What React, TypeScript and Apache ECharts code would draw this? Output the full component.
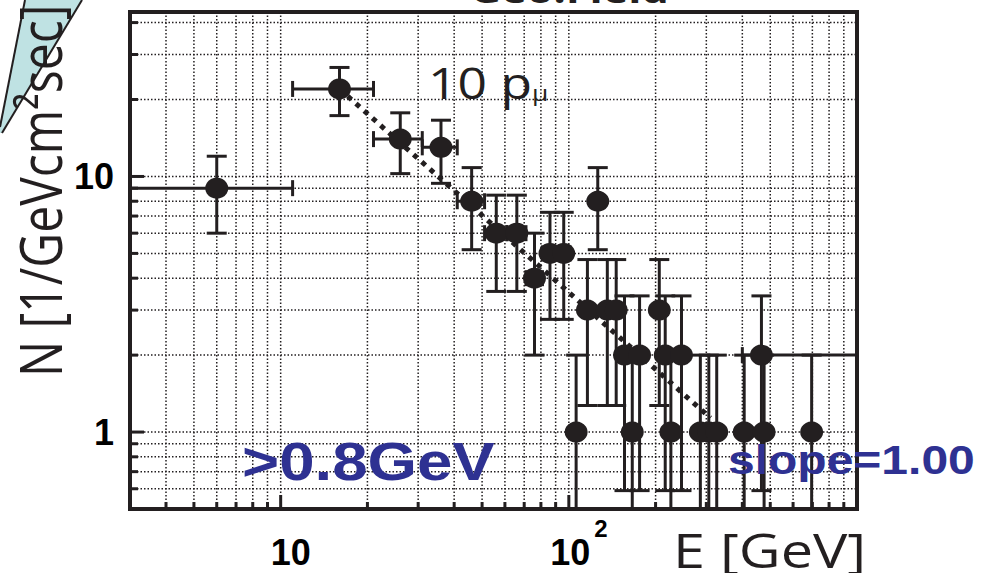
import React, { useEffect, useRef } from 'react';
import * as echarts from 'echarts';

// Measured flux per energy bin (bin centre, bin edges, value, symmetric error)
const energy = [6, 16, 26, 36, 46, 56, 66, 76, 86, 96, 106, 116, 126, 136, 146, 156, 166, 176, 206, 216, 226, 246, 286, 306, 326, 406, 466, 476, 696];
const energyLow = [1, 11, 21, 31, 41, 51, 61, 71, 81, 91, 101, 111, 121, 131, 141, 151, 161, 171, 201, 211, 221, 241, 281, 301, 321, 401, 400, 471, 691];
const energyHigh = [11, 21, 31, 41, 51, 61, 71, 81, 91, 101, 111, 121, 131, 141, 151, 161, 171, 181, 211, 221, 231, 251, 291, 311, 331, 411, 1000, 481, 701];
const flux = [9, 22, 14, 13, 8, 6, 6, 4, 5, 5, 1, 3, 8, 3, 3, 2, 1, 2, 3, 2, 1, 2, 1, 1, 1, 1, 2, 1, 1];
const fluxErr = [3, 4.7, 3.74, 3.6, 2.83, 2.45, 2.45, 2, 2.24, 2.24, 1, 1.73, 2.83, 1.73, 1.73, 1.41, 1, 1.41, 1.73, 1.41, 1, 1.41, 1, 1, 1, 1, 1.41, 1, 1];

// Power-law fit with slope 1.00 (N ∝ E^-1)
const fitStart = [16, 22];
const fitEnd = [310, 1.1355];

// Axis ranges, grid values and labelled ticks
const X_MIN = 3;
const X_MAX = 1000;
const Y_MIN = 0.5;
const Y_MAX = 44;
const xGridValues = [4, 5, 6, 7, 8, 9, 10, 20, 30, 40, 50, 60, 70, 80, 90, 100, 200, 300, 400, 500, 600, 700, 800, 900];
const yGridValues = [0.6, 0.7, 0.8, 0.9, 1, 2, 3, 4, 5, 6, 7, 8, 9, 10, 20, 30, 40];
const xMajorTicks = [10, 100];
const yMajorTicks = [1, 10];

const INK = '#231f20';
const BLUE = '#2e3192';
const TEAL = '#bfe2e3';

const near = (a: number, b: number) => Math.abs(a - b) < 1e-6 * Math.max(1, Math.abs(b));
const isMajor = (v: number, list: number[]) => list.some((m) => near(v, m));

function buildOption(): any {
  const gridData = [
    ...xGridValues.map((v) => [v, Y_MIN, 0]),
    ...yGridValues.map((v) => [X_MIN, v, 1]),
  ];
  const errData = energy.map((e, i) => [e, flux[i], energyLow[i], energyHigh[i], flux[i] - fluxErr[i], flux[i] + fluxErr[i]]);
  const pointData = energy.map((e, i) => [e, flux[i]]);

  return {
    animation: false,
    backgroundColor: '#ffffff',
    grid: {
      left: 130,
      right: 137,
      top: 12,
      bottom: 64,
      show: true,
      borderColor: INK,
      borderWidth: 4,
      backgroundColor: 'transparent',
      containLabel: false,
      outerBoundsMode: 'none',
    },
    xAxis: {
      type: 'log',
      logBase: 10,
      min: X_MIN,
      max: X_MAX,
      axisLine: { show: true, lineStyle: { color: INK, width: 4 } },
      axisTick: { show: false },
      splitLine: { show: false },
      axisLabel: {
        show: true,
        color: '#000',
        verticalAlign: 'bottom',
        margin: 61,
        padding: [0, 0, 0, 20],
        formatter: (v: number) => {
          if (near(v, 10)) return '{a|10}';
          if (near(v, 100)) return '{a|10}{s|2}';
          return '';
        },
        rich: {
          a: { fontSize: 36, fontWeight: 'bold', fontFamily: 'Liberation Sans', color: '#000', verticalAlign: 'bottom' },
          s: { fontSize: 24, fontWeight: 'bold', fontFamily: 'Liberation Sans', color: '#000', verticalAlign: 'top', padding: [0, 0, 30, 4] },
        },
      },
    },
    yAxis: {
      type: 'log',
      logBase: 10,
      min: Y_MIN,
      max: Y_MAX,
      axisLine: { show: true, lineStyle: { color: INK, width: 4 } },
      axisTick: { show: false },
      splitLine: { show: false },
      axisLabel: {
        show: true,
        color: '#000',
        fontSize: 36,
        fontWeight: 'bold',
        fontFamily: 'Liberation Sans',
        margin: 16,
        padding: [0, 0, 6, 0],
        formatter: (v: number) => {
          if (near(v, 1)) return '1';
          if (near(v, 10)) return '10';
          return '';
        },
      },
    },
    series: [
      {
        // dotted grid and inward ticks on the log axes
        type: 'custom',
        silent: true,
        clip: true,
        z: 1,
        encode: { x: 0, y: 1 },
        data: gridData,
        renderItem: (params: any, api: any) => {
          const orient = api.value(2);
          const cs = params.coordSys;
          const dotted = { stroke: INK, lineWidth: 1.5, lineDash: [1.5, 2], fill: 'none' };
          const tickStyle = { stroke: INK, lineWidth: 3, fill: 'none' };
          if (orient === 0) {
            const v = api.value(0);
            const p = api.coord([v, Y_MIN]);
            const major = isMajor(v, xMajorTicks);
            const bottom = cs.y + cs.height;
            const len = major ? 14 : 7;
            return {
              type: 'group',
              children: [
                { type: 'line', shape: { x1: p[0], y1: cs.y, x2: p[0], y2: bottom }, style: dotted },
                { type: 'line', shape: { x1: p[0], y1: bottom, x2: p[0], y2: bottom - len }, style: tickStyle },
              ],
            };
          }
          const v = api.value(1);
          const p = api.coord([X_MIN, v]);
          const major = isMajor(v, yMajorTicks);
          const len = major ? 14 : 8;
          return {
            type: 'group',
            children: [
              { type: 'line', shape: { x1: cs.x, y1: p[1], x2: cs.x + cs.width, y2: p[1] }, style: dotted },
              { type: 'line', shape: { x1: cs.x, y1: p[1], x2: cs.x + len, y2: p[1] }, style: tickStyle },
            ],
          };
        },
      },
      {
        // power-law fit
        type: 'line',
        silent: true,
        z: 3,
        symbol: 'none',
        data: [fitStart, fitEnd],
        lineStyle: { color: INK, width: 5, type: [5, 6], cap: 'butt', opacity: 1 },
      },
      {
        // error bars with caps
        type: 'custom',
        silent: true,
        clip: true,
        z: 4,
        encode: { x: 0, y: 1 },
        data: errData,
        renderItem: (params: any, api: any) => {
          const cs = params.coordSys;
          const x = api.value(0);
          const y = api.value(1);
          const xl = api.value(2);
          const xh = api.value(3);
          const yl = api.value(4);
          const yh = api.value(5);
          const c = api.coord([x, y]);
          const top = api.coord([x, yh]);
          const bot = yl > 0 ? api.coord([x, yl])[1] : cs.y + cs.height + 20;
          const left = api.coord([xl, y]);
          const right = api.coord([xh, y]);
          const st = { stroke: INK, lineWidth: 3, fill: 'none' };
          const cap = 10;
          const xcap = 8;
          const children: any[] = [
            { type: 'line', shape: { x1: c[0], y1: top[1], x2: c[0], y2: bot }, style: st },
            { type: 'line', shape: { x1: c[0] - cap, y1: top[1], x2: c[0] + cap, y2: top[1] }, style: st },
            { type: 'line', shape: { x1: left[0], y1: c[1], x2: right[0], y2: c[1] }, style: st },
            { type: 'line', shape: { x1: left[0], y1: c[1] - xcap, x2: left[0], y2: c[1] + xcap }, style: st },
            { type: 'line', shape: { x1: right[0], y1: c[1] - xcap, x2: right[0], y2: c[1] + xcap }, style: st },
          ];
          if (yl > 0) {
            children.push({ type: 'line', shape: { x1: c[0] - cap, y1: bot, x2: c[0] + cap, y2: bot }, style: st });
          }
          return { type: 'group', children };
        },
      },
      {
        type: 'scatter',
        silent: true,
        z: 5,
        symbol: 'circle',
        symbolSize: [23, 21],
        itemStyle: { color: INK, opacity: 1 },
        data: pointData,
      },
    ],
    graphic: [
      {
        type: 'polygon',
        z: 10,
        silent: true,
        shape: { points: [[25, 0], [82, 0], [2, 133], [0, 133], [0, 127]] },
        style: { fill: TEAL },
      },
      { type: 'line', z: 11, silent: true, shape: { x1: 0, y1: 127, x2: 25, y2: 0 }, style: { stroke: INK, lineWidth: 2 } },
      { type: 'line', z: 11, silent: true, shape: { x1: 82, y1: 0, x2: 2, y2: 133 }, style: { stroke: INK, lineWidth: 2 } },
      {
        type: 'text',
        z: 12,
        silent: true,
        x: 40,
        y: 377,
        rotation: Math.PI / 2,
        scaleY: 1.2,
        style: {
          text: 'N [1/GeVcm²sec]',
          fontSize: 48,
          fontFamily: 'Open Sans',
          fill: INK,
          align: 'left',
          textAlign: 'left',
          verticalAlign: 'middle',
          textVerticalAlign: 'middle',
        },
      },
      {
        type: 'text',
        z: 12,
        silent: true,
        x: 470,
        y: -11,
        scaleX: 1.2,
        style: {
          text: 'Geo.Field',
          fontSize: 36,
          fontWeight: 'bold',
          fontFamily: 'Open Sans',
          fill: INK,
          align: 'left',
          textAlign: 'left',
          verticalAlign: 'middle',
          textVerticalAlign: 'middle',
        },
      },
      {
        type: 'text',
        z: 20,
        silent: true,
        x: 428,
        y: 82,
        scaleX: 1.2,
        style: {
          text: '{n|10 p}{u|μ}',
          rich: {
            n: { fontSize: 43, fontFamily: 'Open Sans', fill: INK, color: INK },
            u: { fontSize: 22, fontFamily: 'Open Sans', fill: INK, color: INK, verticalAlign: 'bottom' },
          },
          align: 'left',
          textAlign: 'left',
          verticalAlign: 'middle',
          textVerticalAlign: 'middle',
        },
      },
      {
        type: 'text',
        z: 20,
        silent: true,
        x: 242,
        y: 461,
        scaleX: 1.2,
        style: {
          text: '>0.8GeV',
          fontSize: 53,
          fontWeight: 'bold',
          fontFamily: 'Liberation Sans',
          fill: BLUE,
          align: 'left',
          textAlign: 'left',
          verticalAlign: 'middle',
          textVerticalAlign: 'middle',
        },
      },
      {
        type: 'text',
        z: 20,
        silent: true,
        x: 728,
        y: 460,
        scaleX: 1.2,
        style: {
          text: 'slope=1.00',
          fontSize: 40,
          fontWeight: 'bold',
          fontFamily: 'Liberation Sans',
          fill: BLUE,
          align: 'left',
          textAlign: 'left',
          verticalAlign: 'middle',
          textVerticalAlign: 'middle',
        },
      },
      {
        type: 'text',
        z: 20,
        silent: true,
        x: 673,
        y: 549,
        scaleX: 1.2,
        style: {
          text: 'E [GeV]',
          fontSize: 48,
          fontFamily: 'Open Sans',
          fill: INK,
          align: 'left',
          textAlign: 'left',
          verticalAlign: 'middle',
          textVerticalAlign: 'middle',
        },
      },
    ],
  };
}

export default function App() {
  const ref = useRef<HTMLDivElement>(null);
  useEffect(() => {
    if (!ref.current) return;
    const chart = echarts.init(ref.current, undefined, { renderer: 'svg' });
    chart.setOption(buildOption());
    return () => {
      chart.dispose();
    };
  }, []);
  return (
    <div
      ref={ref}
      style={{ position: 'fixed', left: 0, top: 0, width: 994, height: 573, background: '#ffffff' }}
    />
  );
}
